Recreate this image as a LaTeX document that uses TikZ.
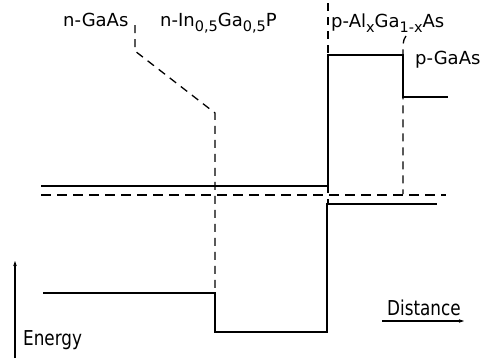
\documentclass[tikz,border=0pt]{standalone}
\usepackage{fontspec}
\setmainfont{DejaVu Sans}
\newfontfamily\axisfont[FakeStretch=0.82]{DejaVu Sans}
\usetikzlibrary{arrows.meta}
% lowered subscript for composition indices
\newcommand\lsub[1]{\raisebox{-5pt}{\fontsize{14.5}{14.5}\selectfont #1}}
\begin{document}
\begin{tikzpicture}[x=1pt,y=-1pt,
  band/.style={line width=1.4pt, line join=miter},
  guide/.style={line width=1.3pt, dash pattern=on 8pt off 6pt},
  fermi/.style={line width=1.3pt, dash pattern=on 10pt off 6pt},
  layer/.style={font=\fontsize{18}{20}\selectfont, inner sep=0pt, anchor=base west},
  axislabel/.style={font=\axisfont\fontsize{20.5}{24}\selectfont, inner sep=0pt, anchor=base west},
  axisarrow/.style={line width=1.2pt, -{Stealth[length=5pt,width=3.5pt]}}]
\useasboundingbox (0,0) rectangle (480,359);

% layer boundaries
\draw[guide] (135,25) -- (135,51) -- (215,113) -- (215,293);
\draw[guide] (328,3) -- (328,204);
\draw[guide] (406,36) .. controls (404,39) .. (403,45) -- (403,194);

% Fermi level
\draw[fermi] (41,195) -- (446,195);

% conduction band edge
\draw[band] (41,186) -- (328,186) -- (328,55) -- (403,55) -- (403,97) -- (448,97);
% valence band edge
\draw[band] (43,293) -- (215,293) -- (215,332) -- (327,332) -- (327,204) -- (437,204);

% layer labels
\node[layer] (nGaAs) at (63,26) {n-GaAs};
\node[layer] (nInGaP) at (160,26) {n-In\lsub{0,5}Ga\lsub{0,5}P};
\node[layer] (pAlGaAs) at (331,27) {p-Al\lsub{x}Ga\lsub{1-x}As};
\node[layer] (pGaAs) at (415,64) {p-GaAs};

% axes
\coordinate (eBot) at (15,358);
\coordinate (eTop) at (15,261);
\draw[axisarrow] (eBot) -- (eTop);
\node[axislabel] (energy) at (23,345) {Energy};
\coordinate (dL) at (382,321);
\coordinate (dR) at (464,321);
\draw[axisarrow] (dL) -- (dR);
\node[axislabel] (distance) at (387,315) {Distance};
\end{tikzpicture}
\end{document}
